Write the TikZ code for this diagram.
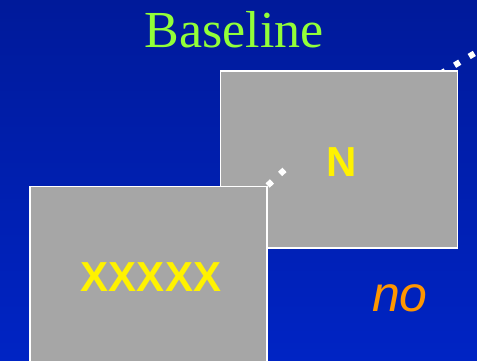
\documentclass[tikz,border=0pt]{standalone}
\usepackage{fontspec}
\setmainfont{Liberation Serif}
\setsansfont{Liberation Sans}
\usetikzlibrary{calc}
\usetikzlibrary{positioning}
\definecolor{bgtop}{RGB}{0,26,154}
\definecolor{bgbot}{RGB}{0,36,196}
\definecolor{titlegreen}{RGB}{146,255,56}
\definecolor{boxgray}{RGB}{166,166,166}
\definecolor{noorange}{RGB}{255,150,0}
\begin{document}
\begin{tikzpicture}[x=1pt,y=-1pt]
        \tikzset{panel/.style = {draw=white,line width=1.6pt,fill=boxgray,minimum width=237pt,inner sep=0pt}}
        \tikzset{bigletter/.style = {text=yellow,font=\sffamily\bfseries\fontsize{42}{42}\selectfont}}
        \tikzset{dotline/.style = {draw=white,line width=6pt,dash pattern=on 6pt off 11pt}}

        \useasboundingbox (0,0) rectangle (477,361);
        \clip (0,0) rectangle (477,361);
        \shade[top color=bgtop,bottom color=bgbot] (0,0) rectangle (477,361);

        \node[text=titlegreen,font=\rmfamily\fontsize{52}{52}\selectfont,anchor=base] (title) at (234,48) {Baseline};

        % dotted trace, partly hidden by the N panel
        \coordinate (dotB) at (440,74);
        \coordinate (dotC) at (495,41);
        \draw[dotline] (dotB) -- (dotC);

        \node[panel,minimum height=177pt] (nbox) at (339,159.5) {};
        \node[bigletter] (nlabel) at (342,162) {N};

        \node[panel,minimum height=190pt,anchor=north west] (xbox) at (29,185.5) {};
        \node[bigletter] (xlabel) at (151,277) {XXXXX};

        \node[text=noorange,font=\sffamily\itshape\fontsize{50}{50}\selectfont] (no) at (400,298) {no};

        \coordinate (dotA) at (286,168.5);
        \draw[dotline] (xbox.north east) -- (dotA);
\end{tikzpicture}
\end{document}
